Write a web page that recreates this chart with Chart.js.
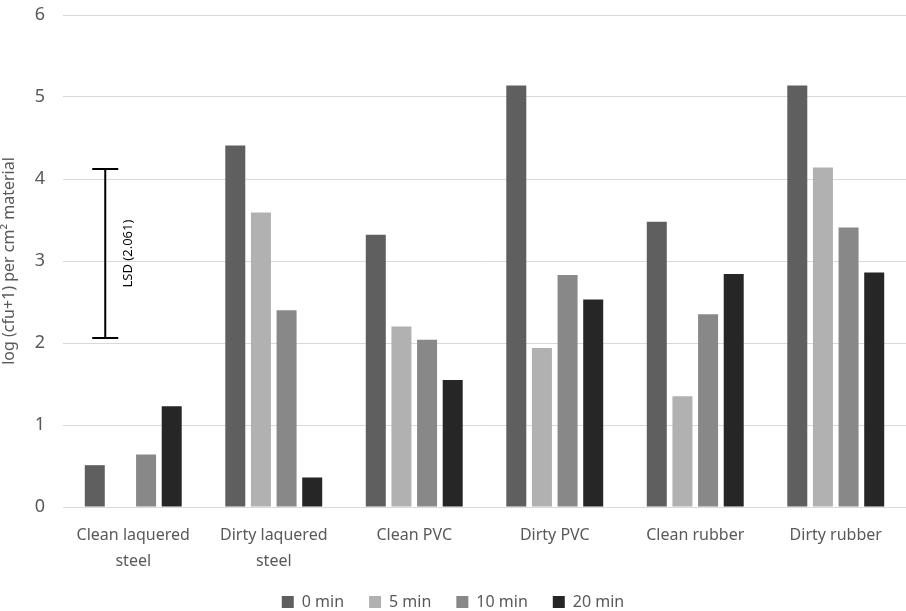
<!DOCTYPE html>
<html>
<head>
<meta charset="utf-8">
<script src="https://cdn.jsdelivr.net/npm/chart.js@4.4.0/dist/chart.umd.min.js"></script>
<style>
  html, body { margin: 0; padding: 0; background: #fff; }
  #wrap { width: 906px; height: 611px; }
</style>
</head>
<body>
<div id="wrap"><canvas id="chart" width="906" height="611"></canvas></div>
<script>
const categories = [
  ["Clean laquered", "steel"],
  ["Dirty laquered", "steel"],
  "Clean PVC",
  "Dirty PVC",
  "Clean rubber",
  "Dirty rubber",
];
const seriesNames = ["0 min", "5 min", "10 min", "20 min"];
const min0 = [0.51, 4.41, 3.32, 5.14, 3.48, 5.14];
const min5 = [0, 3.59, 2.2, 1.94, 1.35, 4.14];
const min10 = [0.64, 2.4, 2.04, 2.83, 2.35, 3.41];
const min20 = [1.23, 0.36, 1.55, 2.53, 2.84, 2.86];
const colors = ["#5f5f5f", "#b1b1b1", "#888888", "#262626"];
const yTicks = [0, 1, 2, 3, 4, 5, 6];

// LSD marker, drawn against the y scale
const lsdLow = 2.06;
const lsdHigh = 4.121;
const lsdLabel = "LSD (2.061)";

const lsdPlugin = {
  id: "lsd",
  afterDatasetsDraw(chart) {
    const { ctx, scales } = chart;
    const x = scales.x.getPixelForValue(0) - 28;
    const yTop = scales.y.getPixelForValue(lsdHigh);
    const yBot = scales.y.getPixelForValue(lsdLow);
    ctx.save();
    ctx.strokeStyle = "#000";
    ctx.lineWidth = 2;
    ctx.beginPath();
    ctx.moveTo(x, yTop);
    ctx.lineTo(x, yBot);
    ctx.moveTo(x - 13, yTop);
    ctx.lineTo(x + 13, yTop);
    ctx.moveTo(x - 13, yBot);
    ctx.lineTo(x + 13, yBot);
    ctx.stroke();
    ctx.translate(x + 23, (yTop + yBot) / 2);
    ctx.rotate(-Math.PI / 2);
    ctx.fillStyle = "#000";
    ctx.font = "13px 'Noto Sans'";
    ctx.textAlign = "center";
    ctx.textBaseline = "middle";
    ctx.fillText(lsdLabel, 0, 0);
    ctx.restore();
  },
};

// wide gaps between legend items, but keep the legend box short
const legendFitPlugin = {
  id: "legendFit",
  beforeLayout(chart) {
    const legend = chart.legend;
    if (legend && !legend._fitPatched) {
      const fit = legend.fit.bind(legend);
      legend.fit = function () {
        fit();
        this.height = 42;
      };
      legend._fitPatched = true;
    }
  },
};

const seriesData = [min0, min5, min10, min20];

new Chart(document.getElementById("chart"), {
  type: "bar",
  data: {
    labels: categories,
    datasets: seriesNames.map((name, i) => ({
      label: name,
      data: seriesData[i],
      backgroundColor: colors[i],
      borderWidth: 0,
      barPercentage: 0.78,
      categoryPercentage: 0.73,
    })),
  },
  options: {
    responsive: false,
    animation: false,
    layout: { padding: { top: 15, right: 0, left: 0, bottom: 0 } },
    plugins: {
      legend: {
        position: "bottom",
        labels: {
          font: { family: "Noto Sans", size: 16 },
          color: "#595959",
          boxWidth: 12,
          boxHeight: 12,
          padding: 25,
        },
      },
      tooltip: { enabled: false },
    },
    scales: {
      x: {
        grid: { display: false },
        border: { color: "#d9d9d9" },
        ticks: {
          font: { family: "Noto Sans", size: 16, lineHeight: 1.65 },
          color: "#595959",
          maxRotation: 0,
          padding: 7,
        },
        afterFit(scale) {
          scale.height = 62;
        },
      },
      y: {
        min: 0,
        max: 6,
        afterBuildTicks(scale) {
          scale.ticks = yTicks.map((v) => ({ value: v }));
        },
        grid: { color: "#d9d9d9", drawTicks: false },
        border: { display: false },
        ticks: {
          font: { family: "Noto Sans", size: 18 },
          color: "#595959",
          padding: 18,
        },
        title: {
          display: true,
          text: "log (cfu+1) per cm² material",
          font: { family: "Noto Sans", size: 16 },
          color: "#595959",
          padding: 0,
        },
        afterFit(scale) {
          scale.width = 63;
          scale.paddingTop = 0;
          scale.paddingBottom = 0;
        },
      },
    },
  },
  plugins: [lsdPlugin, legendFitPlugin],
});
</script>
</body>
</html>
